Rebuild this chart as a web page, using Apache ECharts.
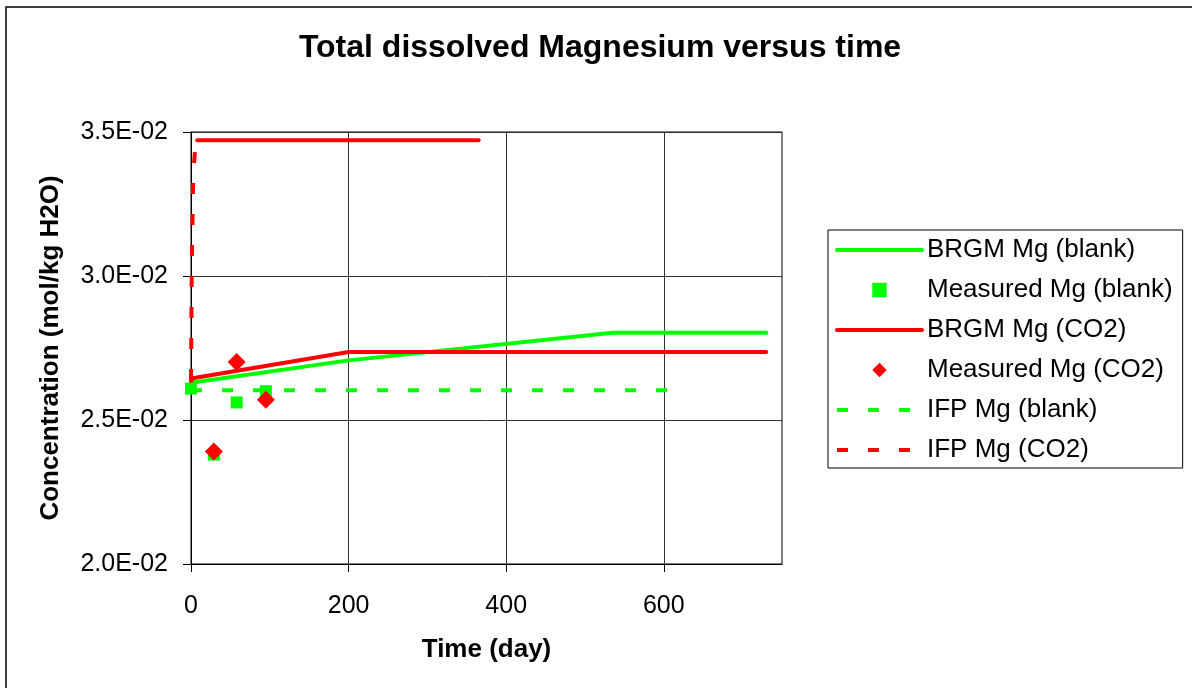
<!DOCTYPE html>
<html>
<head>
<meta charset="utf-8">
<title>Total dissolved Magnesium versus time</title>
<script src="https://cdn.jsdelivr.net/npm/echarts@6/dist/echarts.min.js"></script>
<style>
	html,body{margin:0;padding:0;background:#fff;}
	#charts{width:1192px;height:688px;}
</style>
</head>
<body>
<div id="charts"></div>
<script>
//series names (legend order)
var names = ['BRGM Mg (blank)','Measured Mg (blank)','BRGM Mg (CO2)','Measured Mg (CO2)','IFP Mg (blank)','IFP Mg (CO2)'];

//BRGM model, blank
var brgmBlankDay = [0, 200, 535, 730];
var brgmBlankMg = [0.02629, 0.02707, 0.02803, 0.02803];
//measured, blank
var measBlankDay = [0, 29, 58, 95];
var measBlankMg = [0.02609, 0.02380, 0.02561, 0.02600];
//BRGM model, CO2
var brgmCo2Day = [0, 2, 200, 730];
var brgmCo2Mg = [0.02634, 0.02645, 0.02736, 0.02736];
//measured, CO2
var measCo2Day = [29, 58, 95];
var measCo2Mg = [0.02391, 0.02701, 0.02570];
//IFP model, blank
var ifpBlankDay = [0, 625];
var ifpBlankMg = [0.02603, 0.02603];
//IFP model, CO2 (rise, then plateau)
var ifpCo2Day = [0, 1, 3, 5.5, 8];
var ifpCo2Mg = [0.02639, 0.03050, 0.03360, 0.03450, 0.03471];
var ifpCo2PlateauDay = [8, 365];
var ifpCo2PlateauMg = [0.03471, 0.03471];

//axis ticks
var xTicks = [0, 200, 400, 600];
var yTicks = [0.020, 0.025, 0.030, 0.035];

var GREEN = '#00FF00', RED = '#FF0000';
var FONT = "'Liberation Sans', Arial, sans-serif";

function pairs(xs, ys){
	var out = [];
	for(var i=0;i<xs.length;i++){
		out.push([xs[i], ys[i]]);
	}
	return out;
}

//3.5E-02 style labels
function sci(v){
	var s = Number(v).toExponential(1).split('e');
	var e = parseInt(s[1], 10);
	var sign = e < 0 ? '-' : '+';
	e = Math.abs(e);
	return s[0] + 'E' + sign + (e < 10 ? '0' + e : e);
}

var charts = echarts.init(document.getElementById('charts'));
var option = {
	animation: false,
	backgroundColor: '#fff',
	textStyle: {fontFamily: FONT, color: '#000'},
	title: {
		text: 'Total dissolved Magnesium versus time',
		left: 600,
		textAlign: 'center',
		top: 32,
		padding: 0,
		textStyle: {fontFamily: FONT, fontSize: 32, fontWeight: 'bold', color: '#000'}
	},
	graphic: [{
		type: 'rect',
		shape: {x: 6, y: 7, width: 1300, height: 800},
		style: {fill: 'none', stroke: '#000', lineWidth: 1.5},
		silent: true
	}],
	legend: {
		orient: 'vertical',
		left: 828,
		top: 230,
		padding: [6, 10, 4, 7],
		itemWidth: 85,
		itemHeight: 18,
		itemGap: 12,
		borderColor: '#000',
		borderWidth: 1,
		borderRadius: 0,
		lineStyle: {width: 4},
		textStyle: {fontFamily: FONT, fontSize: 26, color: '#000', lineHeight: 28},
		data: [
			{name: names[0], itemStyle: {opacity: 0}},
			{name: names[1]},
			{name: names[2], itemStyle: {opacity: 0}},
			{name: names[3]},
			{name: names[4], itemStyle: {opacity: 0}},
			{name: names[5], itemStyle: {opacity: 0}}
		]
	},
	grid: {
		left: 191,
		top: 132,
		right: 410,
		bottom: 124,
		show: true,
		borderColor: '#000',
		borderWidth: 1,
		backgroundColor: '#fff'
	},
	xAxis: {
		type: 'value',
		min: 0,
		max: 750,
		interval: 200,
		name: 'Time (day)',
		nameLocation: 'middle',
		nameGap: 73,
		nameTextStyle: {fontFamily: FONT, fontSize: 26, fontWeight: 'bold', color: '#000'},
		axisLine: {show: true, lineStyle: {color: '#000', width: 1}},
		axisTick: {show: true, length: 8, customValues: xTicks, lineStyle: {color: '#000'}},
		axisLabel: {margin: 30, fontFamily: FONT, fontSize: 25, color: '#000', customValues: xTicks},
		splitLine: {show: true, lineStyle: {color: '#333', width: 1}}
	},
	yAxis: {
		type: 'value',
		min: 0.02,
		max: 0.035,
		interval: 0.005,
		name: 'Concentration (mol/kg H2O)',
		nameLocation: 'middle',
		nameGap: 127,
		nameTextStyle: {fontFamily: FONT, fontSize: 26, fontWeight: 'bold', color: '#000'},
		axisLine: {show: true, lineStyle: {color: '#000', width: 1}},
		axisTick: {show: true, length: 8, customValues: yTicks, lineStyle: {color: '#000'}},
		axisLabel: {margin: 23, fontFamily: FONT, fontSize: 25, color: '#000', formatter: sci, customValues: yTicks},
		splitLine: {show: true, lineStyle: {color: '#333', width: 1}}
	},
	series: [{
		name: names[0],
		type: 'line',
		symbol: 'none',
		color: GREEN,
		lineStyle: {color: GREEN, width: 4, cap: 'round', join: 'round'},
		data: pairs(brgmBlankDay, brgmBlankMg)
	},{
		//markers only: line kept invisible so the legend shows a square
		name: names[1],
		type: 'line',
		symbol: 'rect',
		symbolSize: 12,
		showAllSymbol: true,
		color: GREEN,
		itemStyle: {color: GREEN},
		lineStyle: {width: 0, opacity: 0},
		data: pairs(measBlankDay, measBlankMg)
	},{
		name: names[2],
		type: 'line',
		symbol: 'none',
		color: RED,
		lineStyle: {color: RED, width: 4, cap: 'round', join: 'round'},
		data: pairs(brgmCo2Day, brgmCo2Mg)
	},{
		name: names[3],
		type: 'line',
		symbol: 'diamond',
		symbolSize: 18,
		showAllSymbol: true,
		color: RED,
		itemStyle: {color: RED},
		lineStyle: {width: 0, opacity: 0},
		data: pairs(measCo2Day, measCo2Mg)
	},{
		name: names[4],
		type: 'line',
		symbol: 'none',
		color: GREEN,
		lineStyle: {color: GREEN, width: 4, type: [11, 20]},
		data: pairs(ifpBlankDay, ifpBlankMg)
	},{
		name: names[5],
		type: 'line',
		symbol: 'none',
		color: RED,
		lineStyle: {color: RED, width: 4, type: [11, 20]},
		data: pairs(ifpCo2Day, ifpCo2Mg)
	},{
		//plateau of the IFP CO2 curve, drawn solid as in the original
		name: names[5],
		type: 'line',
		symbol: 'none',
		color: RED,
		lineStyle: {color: RED, width: 4, cap: 'round'},
		data: pairs(ifpCo2PlateauDay, ifpCo2PlateauMg)
	}]
};
charts.setOption(option);
</script>
</body>
</html>
